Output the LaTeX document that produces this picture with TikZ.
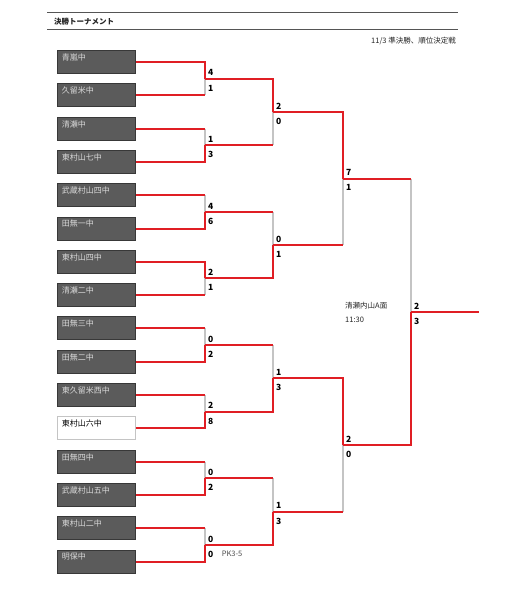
\documentclass[tikz,border=0pt]{standalone}
\usepackage{fontspec}
\setmainfont{Noto Sans CJK JP}
\definecolor{lred}{HTML}{E01E24}
\definecolor{lgray}{HTML}{C4C4C4}
\definecolor{bfill}{HTML}{5B5B5B}
\definecolor{bdark}{HTML}{383838}
\definecolor{hline}{HTML}{555555}
\newcommand\wtop[3]{%
  \draw[grayl] (#2 -| #3) -- (#3);
  \draw[redl] (#2) -- (#2 -| #3);
  \draw[redl] (#1) -- (#1 -| #3) -- (#3);}
\newcommand\wbot[3]{%
  \draw[grayl] (#1 -| #3) -- (#3);
  \draw[redl] (#1) -- (#1 -| #3);
  \draw[redl] (#2) -- (#2 -| #3) -- (#3);}
\newcommand\scores[4]{%
  \node[score, anchor=south west] (#1a) at ([shift={(3,-2.5)}]#2) {#3};
  \node[score, anchor=north west] (#1b) at ([shift={(3,6)}]#2) {#4};}
\begin{document}
\begin{tikzpicture}[x=1pt,y=-1pt,
  redl/.style={draw=lred, line width=2pt, line join=miter},
  grayl/.style={draw=lgray, line width=1.5pt},
  team/.style={draw=bdark, fill=bfill, line width=0.9pt, minimum width=78pt, minimum height=23pt, inner sep=0pt},
  wteam/.style={draw=lgray, fill=white, line width=0.9pt, minimum width=78pt, minimum height=23pt, inner sep=0pt},
  tname/.style={font=\fontsize{8}{8}\selectfont, text=white!85!black, anchor=north west, inner sep=0pt, xshift=4.5pt, yshift=-3.5pt},
  score/.style={font=\bfseries\fontsize{8.5}{9}\selectfont, inner sep=0pt},
  small/.style={font=\fontsize{7.5}{8}\selectfont, inner sep=0pt, text=black!85},
]
\useasboundingbox (0,0) rectangle (517,594);
% header
\draw[hline, line width=1pt] (47,13) -- (458,13);
\draw[hline, line width=1pt] (47,30) -- (458,30);
\node[small, anchor=west, font=\bfseries\fontsize{7.5}{8}\selectfont] (title) at (54,22) {決勝トーナメント};
\node[small, anchor=east] (date) at (456,41) {11/3 準決勝、順位決定戦};
% teams
\foreach \i/\n in {1/青嵐中,2/久留米中,3/清瀬中,4/東村山七中,5/武蔵村山四中,6/田無一中,7/東村山四中,8/清瀬二中,9/田無三中,10/田無二中,11/東久留米西中,13/田無四中,14/武蔵村山五中,15/東村山二中,16/明保中}{
  \node[team, label={[tname]north west:\n}] (t\i) at (96.5,{62+33.3*(\i-1)}) {};
}
\node[wteam, label={[tname, text=black]north west:東村山六中}] (t12) at (96.5,{62+33.3*11}) {};
% junctions
\coordinate (m1) at (205,78.65);
\coordinate (m2) at (205,145.25);
\coordinate (m3) at (205,211.85);
\coordinate (m4) at (205,278.45);
\coordinate (m5) at (205,345.05);
\coordinate (m6) at (205,411.65);
\coordinate (m7) at (205,478.25);
\coordinate (m8) at (205,544.85);
\coordinate (q1) at (273,111.95);
\coordinate (q2) at (273,245.15);
\coordinate (q3) at (273,378.35);
\coordinate (q4) at (273,511.55);
\coordinate (s1) at (343,178.55);
\coordinate (s2) at (343,444.95);
\coordinate (f) at (411,311.75);
\coordinate (fend) at (479,311.75);
% round 1
\wtop{t1.east}{t2.east}{m1}
\wbot{t3.east}{t4.east}{m2}
\wbot{t5.east}{t6.east}{m3}
\wtop{t7.east}{t8.east}{m4}
\wbot{t9.east}{t10.east}{m5}
\wbot{t11.east}{t12.east}{m6}
\wbot{t13.east}{t14.east}{m7}
\wbot{t15.east}{t16.east}{m8}
% round 2
\wtop{m1}{m2}{q1}
\wbot{m3}{m4}{q2}
\wbot{m5}{m6}{q3}
\wbot{m7}{m8}{q4}
% semis
\wtop{q1}{q2}{s1}
\wtop{q3}{q4}{s2}
% final
\wbot{s1}{s2}{f}
\draw[redl] (f) -- (fend);
% scores
\scores{sm1}{m1}{4}{1}
\scores{sm2}{m2}{1}{3}
\scores{sm3}{m3}{4}{6}
\scores{sm4}{m4}{2}{1}
\scores{sm5}{m5}{0}{2}
\scores{sm6}{m6}{2}{8}
\scores{sm7}{m7}{0}{2}
\scores{sm8}{m8}{0}{0}
\node[small, anchor=west, text=black!70] (pk) at ([xshift=8pt]sm8b.east) {PK3-5};
\scores{sq1}{q1}{2}{0}
\scores{sq2}{q2}{0}{1}
\scores{sq3}{q3}{1}{3}
\scores{sq4}{q4}{1}{3}
\scores{ss1}{s1}{7}{1}
\scores{ss2}{s2}{2}{0}
\scores{sf}{f}{2}{3}
% venue
\node[small, anchor=west] (venue) at (345,306) {清瀬内山A面};
\node[small, anchor=west] (time) at (345,320) {11:30};
\end{tikzpicture}
\end{document}
